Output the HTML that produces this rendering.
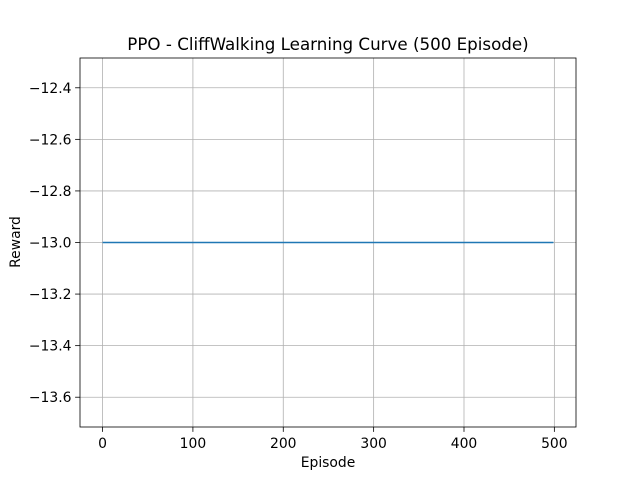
<!DOCTYPE html>
<html><head><meta charset="utf-8"><style>
body{margin:0;background:#fff;}
svg{display:block;font-family:"DejaVu Sans","Liberation Sans",sans-serif;}
</style></head><body>
<svg id="chart" width="640" height="480" viewBox="0 0 640 480">
<rect width="640" height="480" fill="#fff"/>
<text x="328" y="50" text-anchor="middle" font-size="16.7" fill="#000">PPO - CliffWalking Learning Curve (500 Episode)</text>
<g id="grid"></g>
<g id="series"></g>
<rect x="80" y="58" width="496" height="369" fill="none" stroke="#000" stroke-width="0.8"/>
<g id="axes"></g>
<text x="328" y="467" text-anchor="middle" font-size="13.9">Episode</text>
<text transform="translate(20,242) rotate(-90)" text-anchor="middle" font-size="13.9">Reward</text>
</svg>
<script>
const episodes = [0, 50, 100, 150, 200, 250, 300, 350, 400, 450, 499];
const rewards = [-13, -13, -13, -13, -13, -13, -13, -13, -13, -13, -13];
const xTicks = [0, 100, 200, 300, 400, 500];
const yTicks = [-12.4, -12.6, -12.8, -13.0, -13.2, -13.4, -13.6];

const NS = "http://www.w3.org/2000/svg";
const L = 80, R = 576, T = 58, B = 427;
const xMin = -24.95, xMax = 523.95, yMin = -13.7155, yMax = -12.2845;
function xs(v){ return L + (v - xMin) / (xMax - xMin) * (R - L); }
function ys(v){ return B - (v - yMin) / (yMax - yMin) * (B - T); }
function mk(tag, attrs, parent){
  const e = document.createElementNS(NS, tag);
  for (const k in attrs) e.setAttribute(k, attrs[k]);
  parent.appendChild(e); return e;
}
const grid = document.getElementById('grid');
const axes = document.getElementById('axes');
const series = document.getElementById('series');

xTicks.forEach(t => {
  const x = xs(t);
  const g = mk('line', {x1:x, x2:x, y1:T, y2:B, stroke:'#b0b0b0', 'stroke-width':0.8}, grid);
  
  
  const tk = mk('line', {x1:x, x2:x, y1:B, y2:B+4.9, stroke:'#000', 'stroke-width':0.8}, axes);
  
  
  const lb = mk('text', {x:x, y:B+21, 'text-anchor':'middle', 'font-size':13.9}, axes);
  lb.textContent = String(t);
  
  
});
yTicks.forEach(t => {
  const y = ys(t);
  const g = mk('line', {x1:L, x2:R, y1:y, y2:y, stroke:'#b0b0b0', 'stroke-width':0.8}, grid);
  
  
  const tk = mk('line', {x1:L-4.9, x2:L, y1:y, y2:y, stroke:'#000', 'stroke-width':0.8}, axes);
  
  
  const lb = mk('text', {x:L-8.5, y:y+5, 'text-anchor':'end', 'font-size':13.9}, axes);
  lb.textContent = '\u2212' + Math.abs(t).toFixed(1);
  
  
});
const pts = episodes.map((e, i) => xs(e).toFixed(2) + ',' + ys(rewards[i]).toFixed(2)).join(' ');
const line = mk('polyline', {points:pts, fill:'none', stroke:'#1f77b4', 'stroke-width':1.5}, series);


</script>
</body></html>
